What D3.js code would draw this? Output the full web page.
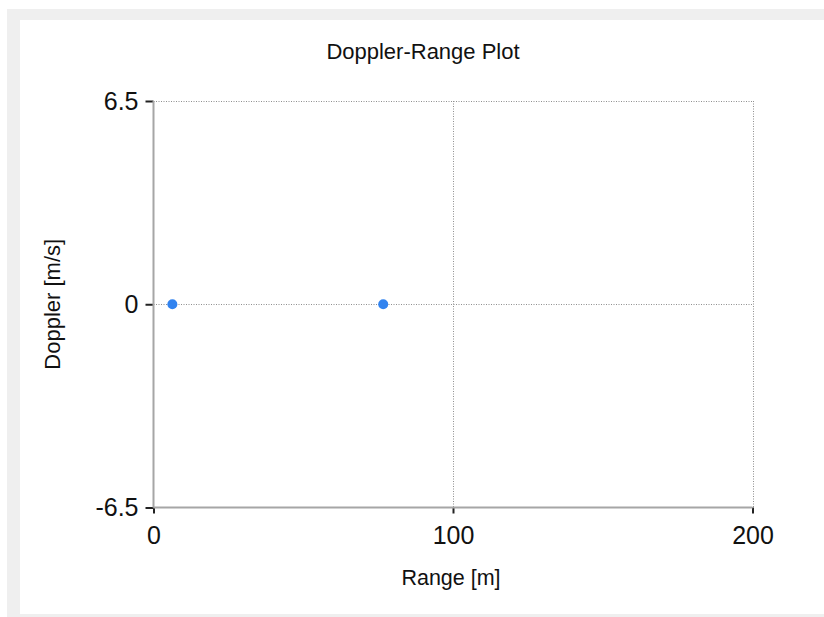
<!DOCTYPE html>
<html>
<head>
<meta charset="utf-8">
<script src="https://cdn.jsdelivr.net/npm/d3@7"></script>
<style>
  html, body { margin: 0; padding: 0; background: #ffffff; }
  svg { display: block; font-family: "Liberation Sans", Arial, sans-serif; }
</style>
</head>
<body>
<svg id="chart" width="824" height="617"></svg>
<script>
// Detected targets: range (m) and Doppler velocity (m/s)
const targetRange = [6.3, 76.7];
const targetDoppler = [0, 0];

const xTicks = [0, 100, 200];
const yTicks = [-6.5, 0, 6.5];
const yTickLabels = ["-6.5", "0", "6.5"];
const xDomain = [0, 200];
const yDomain = [-6.5, 6.5];

const titleText = "Doppler-Range Plot";
const xLabel = "Range [m]";
const yLabel = "Doppler [m/s]";

const svg = d3.select("#chart");
const W = 824, H = 617;

// window frame
svg.append("rect").attr("x", 7).attr("y", 9).attr("width", W - 7).attr("height", H - 9).attr("fill", "#efefef");
svg.append("rect").attr("x", 20).attr("y", 20).attr("width", W - 20).attr("height", 594).attr("fill", "#ffffff");

const plot = { left: 153.5, right: 752.5, top: 101, bottom: 507.5 };

const x = d3.scaleLinear().domain(xDomain).range([plot.left, plot.right]);
const y = d3.scaleLinear().domain(yDomain).range([plot.bottom, plot.top]);

// dotted grid lines
const grid = svg.append("g").attr("stroke", "#8f8f8f").attr("stroke-width", 1).attr("stroke-dasharray", "1,1.5");
yTicks.filter(v => v !== yDomain[0]).forEach(v => {
  grid.append("line").attr("x1", plot.left).attr("x2", plot.right)
    .attr("y1", Math.round(y(v)) + 0.5).attr("y2", Math.round(y(v)) + 0.5);
});
xTicks.filter(v => v !== xDomain[0]).forEach(v => {
  grid.append("line").attr("y1", plot.top).attr("y2", plot.bottom)
    .attr("x1", Math.round(x(v)) + 0.5).attr("x2", Math.round(x(v)) + 0.5);
});

// axes
const xAxis = d3.axisBottom(x).tickValues(xTicks).tickSize(6).tickPadding(13).tickFormat(d3.format("d"));
const yAxis = d3.axisLeft(y).tickValues(yTicks).tickSize(8).tickPadding(7)
  .tickFormat((d, i) => yTickLabels[i]);

const gx = svg.append("g").attr("transform", `translate(0,${plot.bottom})`).call(xAxis);
const gy = svg.append("g").attr("transform", `translate(${plot.left},0)`).call(yAxis);

[gx, gy].forEach(g => {
  g.select(".domain").remove();
  g.selectAll(".tick line").attr("stroke", "#222").attr("stroke-width", 2);
  g.selectAll(".tick text").attr("fill", "#111").attr("font-size", 25)
    .attr("font-family", "'Liberation Sans', Arial, sans-serif");
});

// solid axis lines
svg.append("line").attr("x1", plot.left).attr("x2", plot.left).attr("y1", plot.top).attr("y2", plot.bottom)
  .attr("stroke", "#a6a6a6").attr("stroke-width", 2);
svg.append("line").attr("x1", plot.left).attr("x2", plot.right).attr("y1", plot.bottom).attr("y2", plot.bottom)
  .attr("stroke", "#a6a6a6").attr("stroke-width", 2);

// target markers
svg.append("g").selectAll("circle")
  .data(targetRange.map((r, i) => ({ r, d: targetDoppler[i] })))
  .join("circle")
  .attr("cx", d => x(d.r))
  .attr("cy", d => y(d.d))
  .attr("r", 5)
  .attr("fill", "#3183ef");

// title and axis labels
svg.append("text").attr("x", 423).attr("y", 59).attr("text-anchor", "middle")
  .attr("font-size", 22).attr("fill", "#111").text(titleText);
svg.append("text").attr("x", 451).attr("y", 585).attr("text-anchor", "middle")
  .attr("font-size", 21.5).attr("fill", "#111").text(xLabel);
svg.append("text").attr("transform", `translate(60,${(plot.top + plot.bottom) / 2}) rotate(-90)`)
  .attr("text-anchor", "middle").attr("font-size", 22).attr("fill", "#111").text(yLabel);
</script>
</body>
</html>
